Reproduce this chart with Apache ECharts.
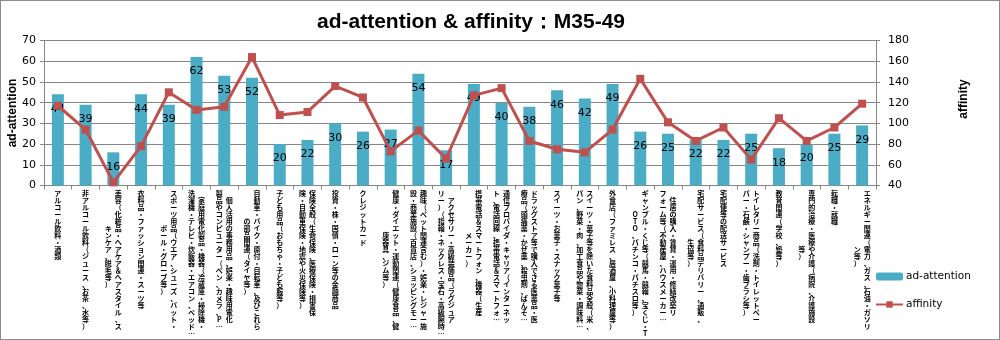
<!DOCTYPE html>
<html>
<head>
<meta charset="utf-8">
<script src="https://cdn.jsdelivr.net/npm/echarts@6/dist/echarts.min.js"></script>
<style>
  html, body { margin: 0; padding: 0; background: #fff; }
  #chart { width: 1000px; height: 340px; box-sizing: border-box; border: 1px solid #8c8c8c; }
</style>
</head>
<body>
<div id="chart"></div>
<script>
// Category names; "\n" marks where a label wraps into its second vertical column
const categories = [
  "アルコール飲料・酒類",
  "非アルコール飲料（ジュース、お茶、水等）",
  "美容（化粧品・ヘアケア＆ヘアスタイル、ス\nキンケア、脱毛等）",
  "衣料品・ファッション関連・スーツ等",
  "スポーツ用品（ウエア、シューズ、バット・\nボール・グローブ等）",
  "家庭用電化製品・機器（冷蔵庫・掃除機・\n洗濯機・テレビ・炊飯器・エアコン、ベッド…",
  "個人活用の事務用品、娯楽・趣味用電化\n製品やコンピューター（ペン、カメラ、P…",
  "自動車・バイク・原付・自転車、及びこれら\nの部品関連（タイヤ等）",
  "子ども用品（おもちゃ・子ども服等）",
  "保険全般（生命保険、医療保険・損害保\n険・自動車保険・地震や火災保険等）",
  "投資・株・国債・ローン等の金融商品",
  "クレジットカード",
  "健康・ダイエット・運動関連（健康食品、健\n康器具、ジム等）",
  "趣味（ペット関連含む）・娯楽・レジャー施\n設・商業施設（百貨店、ショッピングモー…",
  "アクセサリー・高級装飾品（ラグジュア\nリー）（指輪・ネックレス・宝石・高級腕時…",
  "携帯電話＆スマートフォン、機器（生産\nメーカー）",
  "通信プロバイダ・キャリア（インターネッ\nト、電話回線、携帯電話＆スマートフォ…",
  "ドラッグストア等で購入できる医薬品・医\n療品（頭痛薬・かぜ薬、殺虫剤、ばんそ…",
  "スイーツ・お菓子・スナック菓子等",
  "スイーツ・菓子等を除いた食料品全般（米、\nパン、野菜・肉、加工食品や惣菜・調味料…",
  "外食店（ファミレス、居酒屋、小料理屋等）",
  "ギャンブル・くじ等（競馬・競輪、宝くじ・T\nOTO、パチンコ・パチスロ等）",
  "住居の購入・賃貸・運用・修繕改築リ\nフォーム等（不動産屋、ハウスメーカー…",
  "宅配サービス（食料品デリバリー、通販、\n生協等）",
  "宅配便等の配送サービス",
  "トイレタリー商品（洗剤・トイレットペー\nパー・石鹸・シャンプー・歯ブラシ等）",
  "教育関連（学校、塾等）",
  "専門的治療・医療や介護（病院、介護施設\n等）",
  "転職・就職",
  "エネルギー関連（電力、ガス、石油・ガソリ\nン等）"
];

const adAttention = [44, 39, 16, 44, 39, 62, 53, 52, 20, 22, 30, 26, 27, 54, 17,
                     49, 40, 38, 46, 42, 49, 26, 25, 22, 22, 25, 18, 20, 25, 29];

const affinity = [117, 94, 43, 78, 130, 113, 116, 164, 108, 111, 136, 125, 73, 93, 66,
                  127, 134, 83, 75, 72, 94, 143, 101, 83, 96, 65, 105, 83, 96, 119];

const leftTicks = { min: 0, max: 70, interval: 10 };
const rightTicks = { min: 40, max: 180, interval: 20 };

const titleText = "ad-attention & affinity：M35-49";

// Stack each label's characters top-to-bottom; columns run right-to-left,
// shorter columns are centred against the longest one.
function verticalLabel(value) {
  const cols = value.split("\n").map(s => Array.from(s));
  const n = Math.max.apply(null, cols.map(c => c.length));
  const offs = cols.map(c => Math.floor((n - c.length) / 2));
  const rows = [];
  for (let i = 0; i < n; i++) {
    let row = "";
    for (let k = cols.length - 1; k >= 0; k--) {
      const ch = cols[k][i - offs[k]] || "\u3000";
      row += "{c|" + ch + "}";
    }
    rows.push(row);
  }
  return rows.join("\n");
}

const axisGray = "#868686";
const chart = echarts.init(document.getElementById("chart"), null, { renderer: "canvas" });

chart.setOption({
  animation: false,
  backgroundColor: "#ffffff",
  title: {
    text: titleText,
    left: 465,
    top: 6,
    textAlign: "center",
    textStyle: { fontFamily: "Liberation Sans", fontWeight: "bold", fontSize: 21, color: "#000" }
  },
  legend: {
    orient: "vertical",
    left: 869,
    top: 265,
    itemGap: 17,
    itemWidth: 27,
    itemHeight: 8,
    textStyle: { fontFamily: "DejaVu Sans", fontSize: 10.5, color: "#000", padding: [0, 0, 0, -2] },
    data: ["ad-attention", "affinity"]
  },
  grid: { left: 43, right: 123, top: 39.5, bottom: 153.5, outerBoundsMode: "none" },
  xAxis: {
    type: "category",
    data: categories,
    axisLine: { lineStyle: { color: axisGray } },
    axisTick: { show: true, length: 4, lineStyle: { color: axisGray } },
    axisLabel: {
      interval: 0,
      margin: 4,
      formatter: verticalLabel,
      rich: {
        c: { width: 10, align: "center", fontFamily: "Noto Sans CJK JP", fontWeight: "bold", fontSize: 7, lineHeight: 7, color: "#000" }
      }
    }
  },
  yAxis: [
    {
      type: "value",
      min: leftTicks.min, max: leftTicks.max, interval: leftTicks.interval,
      name: "ad-attention",
      nameLocation: "middle",
      nameRotate: 90,
      nameGap: 25,
      nameMoveOverlap: false,
      nameTextStyle: { fontFamily: "Liberation Sans", fontWeight: "bold", fontSize: 12, color: "#000" },
      axisLine: { show: true, lineStyle: { color: axisGray } },
      axisTick: { show: true, length: 4, lineStyle: { color: axisGray } },
      axisLabel: { margin: 8, fontFamily: "DejaVu Sans", fontSize: 11, color: "#000" },
      splitLine: { show: true, lineStyle: { color: axisGray, width: 1 } }
    },
    {
      type: "value",
      position: "right",
      min: rightTicks.min, max: rightTicks.max, interval: rightTicks.interval,
      name: "affinity",
      nameLocation: "middle",
      nameRotate: 90,
      nameGap: 82,
      nameMoveOverlap: false,
      nameTextStyle: { fontFamily: "Liberation Sans", fontWeight: "bold", fontSize: 12, color: "#000", padding: [0, 0, 0, 28] },
      axisLine: { show: true, lineStyle: { color: axisGray } },
      axisTick: { show: true, length: 4, lineStyle: { color: axisGray } },
      axisLabel: { margin: 12, fontFamily: "DejaVu Sans", fontSize: 11, color: "#000" },
      splitLine: { show: false }
    }
  ],
  series: [
    {
      name: "ad-attention",
      type: "bar",
      data: adAttention,
      barWidth: 12,
      itemStyle: { color: "#4BACC6" },
      label: {
        show: true,
        position: "insideTop",
        distance: 9,
        fontFamily: "DejaVu Sans",
        fontSize: 11,
        color: "#000"
      }
    },
    {
      name: "affinity",
      type: "line",
      yAxisIndex: 1,
      data: affinity,
      symbol: "rect",
      symbolSize: 8,
      lineStyle: { color: "#C0504D", width: 3 },
      itemStyle: { color: "#C0504D" },
      z: 3
    }
  ]
});
</script>
</body>
</html>
